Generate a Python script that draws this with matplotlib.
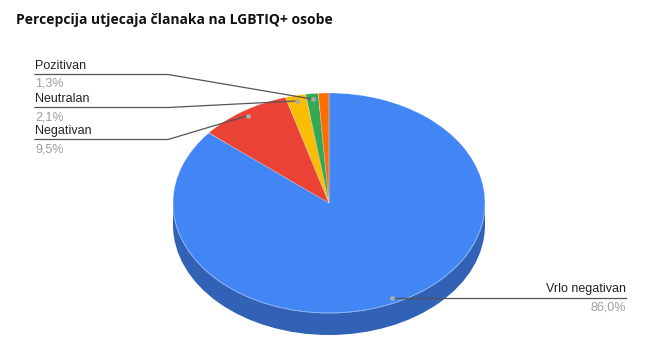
import numpy as np
import matplotlib
matplotlib.use("Agg")
import matplotlib.pyplot as plt
from matplotlib.patches import Rectangle, Ellipse, Arc

title = "Percepcija utjecaja članaka na LGBTIQ+ osobe"
labels = ["Vrlo negativan", "Negativan", "Neutralan", "Pozitivan", "Vrlo pozitivan"]
values = [86.0, 9.5, 2.1, 1.3, 1.1]
pct_text = ["86,0%", "9,5%", "2,1%", "1,3%", "1,1%"]
colors = ["#4285f4", "#ea4335", "#fbbc04", "#34a853", "#ff6d01"]
side_color = "#3162b6"

# pie geometry in pixels
CX, CY, RX, RY, DEPTH = 329, 203, 156, 110, 22
W, H = 650, 343

fig = plt.figure(figsize=(6.5, 3.43), dpi=100)

# pie axes: unit circle stretched onto the ellipse
d = DEPTH / RY
axp = fig.add_axes([(CX - RX) / W, (H - (CY + RY + DEPTH)) / H, 2 * RX / W, (2 * RY + DEPTH) / H])
axp.add_patch(Ellipse((0, -d), 2, 2, color=side_color, lw=0))
axp.add_patch(Rectangle((-1, -d), 2, d, color=side_color, lw=0))
axp.pie(values, colors=colors, startangle=90, counterclock=False, radius=1,
        wedgeprops=dict(linewidth=0.4, edgecolor=(1, 1, 1, 0.5)))
axp.add_patch(Arc((0, 0), 2, 2, theta1=180, theta2=360, color="#8fb3f7", lw=0.6))
axp.set_aspect("auto")
axp.set_xlim(-1, 1)
axp.set_ylim(-1 - d, 1)
axp.axis("off")

# overlay axes in pixel coordinates for title and labels
ax = fig.add_axes([0, 0, 1, 1], facecolor="none")
ax.set_xlim(0, W)
ax.set_ylim(H, 0)
ax.axis("off")

ax.text(16, 20, title, fontsize=10, fontweight="bold", family="Open Sans",
        ha="left", va="center", color="#111111")

# leader points at the middle of each slice
cum = np.cumsum([0] + values[:-1])
mids = (cum + np.array(values) / 2) / sum(values) * 2 * np.pi
dots = [(CX + 0.95 * RX * np.sin(a), CY - 0.95 * RY * np.cos(a)) for a in mids]

lab_font = dict(family="Liberation Sans", fontsize=9)
left_rows = {3: 66, 2: 99, 1: 131}
for i, ytop in left_rows.items():
    yline = ytop + 8.5
    ax.text(35, ytop, labels[i], ha="left", va="center", color="#222222", **lab_font)
    ax.text(35, ytop + 18, pct_text[i], ha="left", va="center", color="#9e9e9e", **lab_font)
    px, py = dots[i]
    ax.plot([35, 168, px], [yline, yline, py], color="#555555", lw=0.9)
    ax.plot(px, py, "o", ms=3.5, color="#aaaaaa", mec="none")

px, py = dots[0]
ax.text(626, 289, labels[0], ha="right", va="center", color="#222222", **lab_font)
ax.text(626, 307, pct_text[0], ha="right", va="center", color="#9e9e9e", **lab_font)
ax.plot([px, 626], [py, py], color="#555555", lw=0.9)
ax.plot(px, py, "o", ms=3.5, color="#aaaaaa", mec="none")

fig.savefig("out.png", dpi=100)
